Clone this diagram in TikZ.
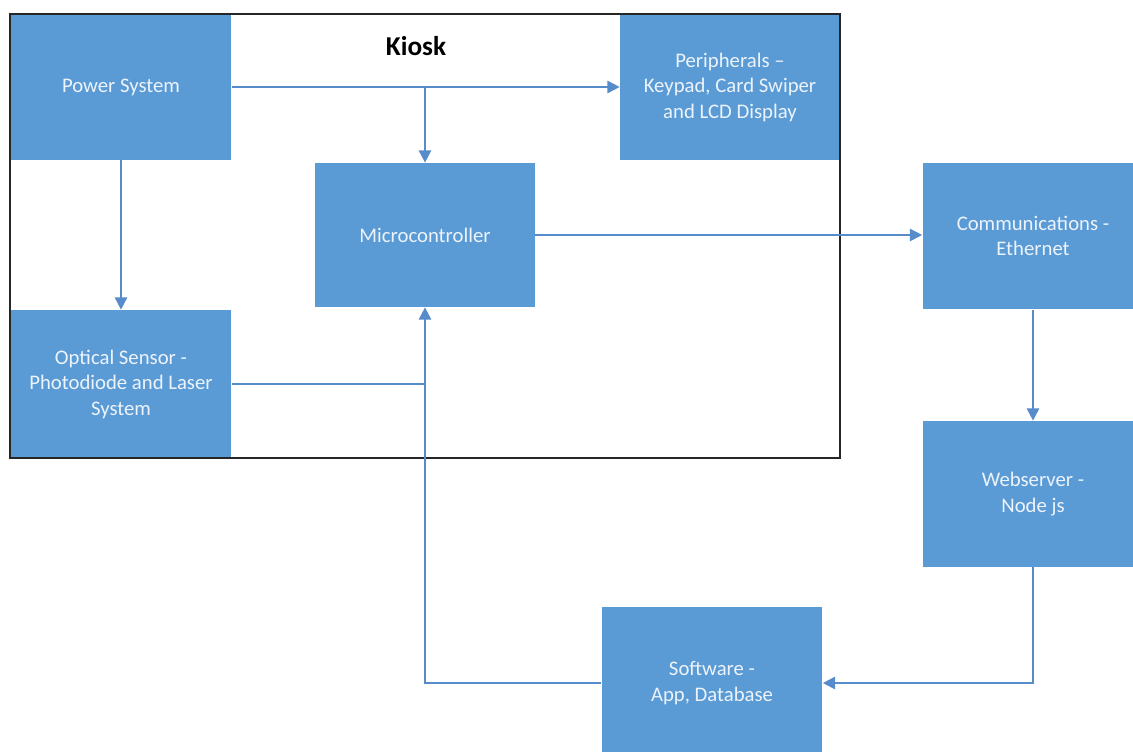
\documentclass[tikz,border=0pt]{standalone}
\usepackage{fontspec}
\setmainfont{Carlito}
\usepackage{tikz}
\usetikzlibrary{arrows.meta}
\definecolor{boxblue}{RGB}{91,155,213}
\definecolor{lineblue}{RGB}{86,140,202}
\definecolor{boxtext}{RGB}{236,243,251}

\begin{document}
\begin{tikzpicture}[x = 0.02cm, y = -0.02cm,
    block/.style = {fill=boxblue, text=boxtext, align=center, inner sep=0pt,
                    minimum width=4.42cm, minimum height=2.92cm,
                    font=\fontsize{11.8}{14.5}\selectfont},
    link/.style = {draw=lineblue, line width=1pt},
    >={Triangle[length=7pt,width=7pt]}]

                \useasboundingbox (0,0) rectangle (1133,751);
                \clip (0,0) rectangle (1133,751);

                \node[font=\fontsize{15.5}{18}\selectfont\bfseries] (kiosk) at (416,46) {Kiosk};

                \node[block] (power) at (121,87) {Power System};
                \node[block, minimum width=4.4cm] (periph) at (730,87) {Peripherals --\\ Keypad, Card Swiper\\ and LCD Display};
                \node[block, minimum width=4.4cm, minimum height=2.88cm] (micro) at (425,235) {Microcontroller};
                \node[block, minimum height=2.96cm] (optical) at (121,384) {Optical Sensor -\\ Photodiode and Laser\\ System};

                \node[block, minimum height=2.94cm] (comm) at (1033,236) {Communications -\\ Ethernet};
                \node[block] (web) at (1033,494) {Webserver -\\ Node js};
                \node[block, minimum height=3.04cm] (soft) at (712,683) {Software -\\ App, Database};

                \draw[line width=1pt, draw=black!85] (10,14) rectangle (840,458);

                \draw[link, ->] (power.east) -- (periph.west);
                \draw[link, ->] (power.east -| micro.north) -- (micro.north);
                \draw[link, ->] (power.south) -- (optical.north);
                \draw[link] (optical.east) -- (optical.east -| micro.south);
                \draw[link, ->] (soft.west) -| (micro.south);
                \draw[link, ->] (micro.east) -- (comm.west |- micro.east);
                \draw[link, ->] (comm.south) -- (web.north);
                \draw[link, ->] (web.south) |- (soft.east);
            \end{tikzpicture}
\end{document}
